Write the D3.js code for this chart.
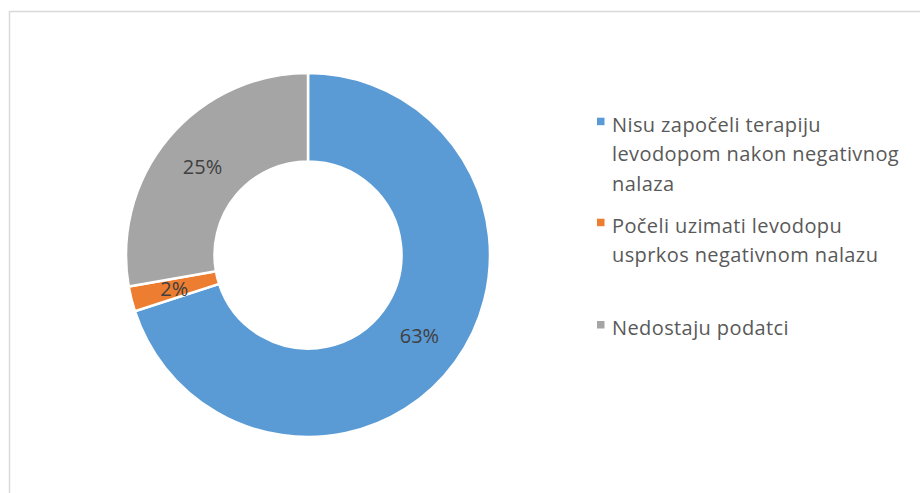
<!DOCTYPE html>
<html>
<head>
<meta charset="utf-8">
<script src="https://cdn.jsdelivr.net/npm/d3@7"></script>
<style>
  body { margin: 0; background: #fff; }
  svg { display: block; }
  text { font-variant-ligatures: none; }
</style>
</head>
<body>
<div id="chart"></div>
<script>
// data
var categories = [
  "Nisu započeli terapiju levodopom nakon negativnog nalaza",
  "Počeli uzimati levodopu usprkos negativnom nalazu",
  "Nedostaju podatci"
];
var values = [63, 2, 25];
var valueLabels = ["63%", "2%", "25%"];
// legend text broken into lines as in the reference
var legendLines = [
  ["Nisu započeli terapiju", "levodopom nakon negativnog", "nalaza"],
  ["Počeli uzimati levodopu", "usprkos negativnom nalazu"],
  ["Nedostaju podatci"]
];
var colors = ["#5b9bd5", "#ed7d31", "#a5a5a5"];

var width = 920, height = 493;
var cx = 308, cy = 255;
var outerR = 182, innerR = 93.5;

var svg = d3.select("#chart")
  .append("svg")
  .attr("width", width)
  .attr("height", height);

// chart area border (runs off the right and bottom)
svg.append("rect")
  .attr("x", 9.5)
  .attr("y", 11.5)
  .attr("width", width)
  .attr("height", height)
  .attr("fill", "none")
  .attr("stroke", "#d9d9d9")
  .attr("stroke-width", 1.5);

var pie = d3.pie().sort(null).value(function(d) { return d; });
var arc = d3.arc().innerRadius(innerR).outerRadius(outerR);

var g = svg.append("g")
  .attr("transform", "translate(" + cx + "," + cy + ")");

var arcs = pie(values);

g.selectAll("path")
  .data(arcs)
  .enter()
  .append("path")
  .attr("d", arc)
  .attr("fill", function(d, i) { return colors[i]; })
  .attr("stroke", "#fff")
  .attr("stroke-width", 2.5);

//slice labels at the centroid
g.selectAll("text.slice")
  .data(arcs)
  .enter()
  .append("text")
  .attr("class", "slice")
  .attr("x", function(d) { return arc.centroid(d)[0]; })
  .attr("y", function(d) { return arc.centroid(d)[1]; })
  .attr("dy", "0.36em")
  .attr("text-anchor", "middle")
  .attr("font-family", "'Open Sans', sans-serif")
  .attr("font-size", 20)
  .attr("fill", "#404040")
  .text(function(d, i) { return valueLabels[i]; });

// legend, baselines of first line per item
var legendBase = [131.7, 232.7, 335];
var lineH = 29.5;
var legend = svg.append("g").attr("class", "legend");

categories.forEach(function(c, i) {
  var item = legend.append("g");
  item.append("rect")
    .attr("x", 597)
    .attr("y", legendBase[i] - 14)
    .attr("width", 7.5)
    .attr("height", 7.5)
    .attr("fill", colors[i]);
  var t = item.append("text")
    .attr("font-family", "'Open Sans', sans-serif")
    .attr("font-size", 20)
    .attr("letter-spacing", 0.4)
    .attr("fill", "#595959");
  legendLines[i].forEach(function(line, j) {
    t.append("tspan")
      .attr("x", 612)
      .attr("y", legendBase[i] + j * lineH)
      .text(line);
  });
});
</script>
</body>
</html>
